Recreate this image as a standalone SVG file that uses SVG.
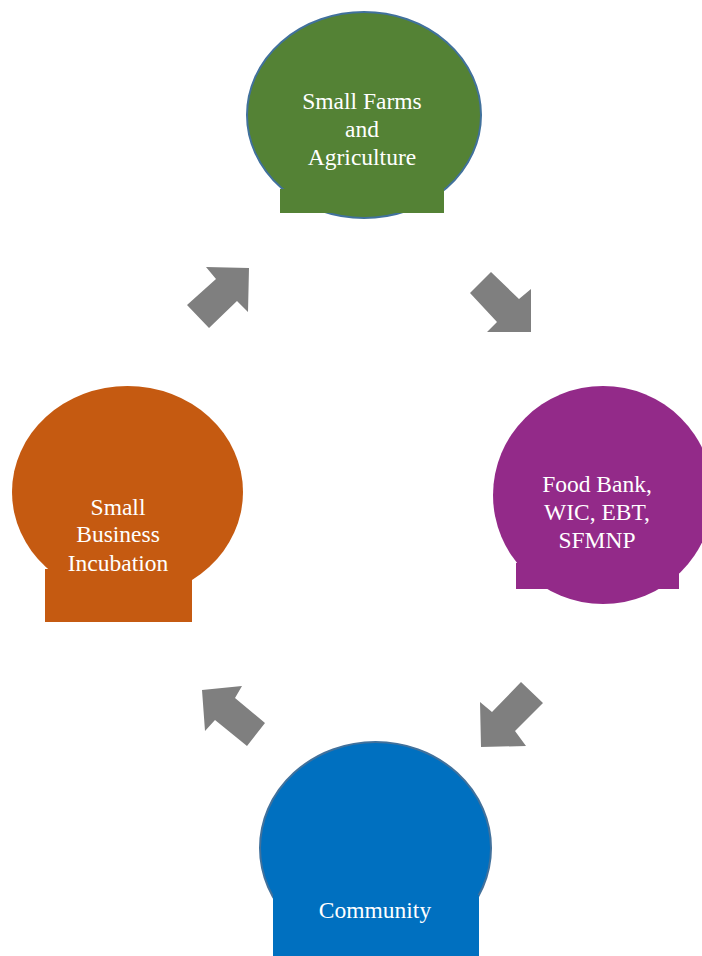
<svg xmlns="http://www.w3.org/2000/svg" width="702" height="956" viewBox="0 0 702 956">
<style>
.lbl{font-family:"Liberation Serif","Times New Roman","DejaVu Serif",serif;font-size:23.5px;fill:#ffffff;text-anchor:middle}
.arr{fill:#7f7f7f}
.edge{stroke:#41719c;stroke-width:2}
</style>
<rect width="702" height="956" fill="#ffffff"/>
<g id="connectors">
<polygon class="arr" points="249,268 206,267 216,279 187,305 209,328 237,301 248,312"/>
<polygon class="arr" points="491,272 519,299 531,289 531,332 487,332 497,322 470,293"/>
<polygon class="arr" points="521,682 543,703 515,731 526,746 481,747 480,702 492,712"/>
<polygon class="arr" points="202,690 242,686 235,698 265,723 247,746 215,720 205,731"/>
</g>
<g id="node-farms">
<ellipse class="edge" cx="364" cy="115" rx="117" ry="103" fill="#548235"/>
<rect x="280" y="189" width="164" height="24" fill="#548235"/>
<text class="lbl" x="362" y="109" font-family="Liberation Serif, serif">Small Farms</text>
<text class="lbl" x="362" y="137" font-family="Liberation Serif, serif">and</text>
<text class="lbl" x="362" y="165" font-family="Liberation Serif, serif">Agriculture</text>
</g>
<g id="node-foodbank">
<ellipse cx="603" cy="495" rx="110" ry="109" fill="#932a89"/>
<rect x="516" y="563" width="163" height="26" fill="#932a89"/>
<text class="lbl" x="597" y="492">Food Bank,</text>
<text class="lbl" x="597" y="520">WIC, EBT,</text>
<text class="lbl" x="597" y="548">SFMNP</text>
</g>
<g id="node-community">
<ellipse class="edge" cx="375.5" cy="848" rx="115.5" ry="106" fill="#0070c0"/>
<rect x="273" y="895" width="206" height="61" fill="#0070c0"/>
<text class="lbl" x="375" y="918">Community</text>
</g>
<g id="node-business">
<ellipse cx="127.5" cy="492" rx="115.5" ry="106" fill="#c55a11"/>
<rect x="45" y="569" width="147" height="53" fill="#c55a11"/>
<text class="lbl" x="118" y="515">Small</text>
<text class="lbl" x="118" y="542">Business</text>
<text class="lbl" x="118" y="571">Incubation</text>
</g>
</svg>
